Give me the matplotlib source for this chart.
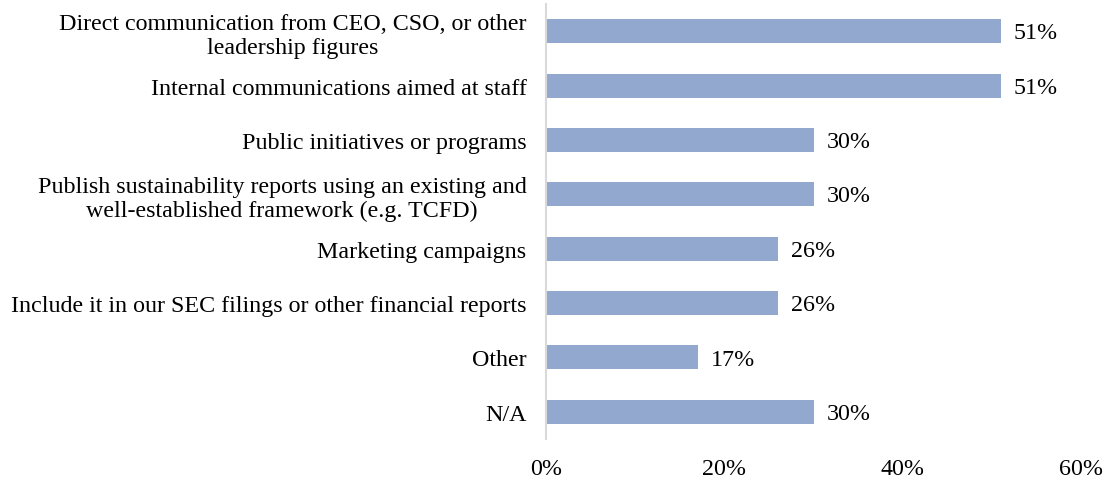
import matplotlib
matplotlib.use("Agg")
import matplotlib.pyplot as plt

categories = [
    "Direct communication from CEO, CSO, or other\nleadership figures",
    "Internal communications aimed at staff",
    "Public initiatives or programs",
    "Publish sustainability reports using an existing and\nwell-established framework (e.g. TCFD)",
    "Marketing campaigns",
    "Include it in our SEC filings or other financial reports",
    "Other",
    "N/A",
]
values = [51, 51, 30, 30, 26, 26, 17, 30]
xticks = [0, 20, 40, 60]
xtick_labels = ["0%", "20%", "40%", "60%"]

plt.rcParams['font.family'] = ['Liberation Serif', 'DejaVu Serif']
FS = 17.3

fig = plt.figure(figsize=(11.04, 4.81), dpi=100)
ax = fig.add_axes([546/1104, 41/481, (1081-546)/1104, 435/481])

pos = list(range(len(categories)))
ax.barh(pos, values, height=0.44, color="#93A8CE", edgecolor="none")
for p, v in zip(pos, values):
    ax.text(v + 1.45, p + 0.03, f"{v}%", va="center", ha="left", fontsize=FS, color="black")

ax.set_ylim(len(categories) - 0.5, -0.5)
ax.set_xlim(0, 60)
ax.set_yticks(pos)
ax.set_yticklabels(categories, fontsize=FS)
for lbl in ax.get_yticklabels():
    lbl.set_multialignment("center")
    lbl.set_linespacing(1.2)
ax.set_xticks(xticks)
ax.set_xticklabels(xtick_labels, fontsize=FS)
ax.tick_params(axis="both", length=0)
ax.tick_params(axis="y", pad=14)
ax.tick_params(axis="x", pad=14)

for s in ["top", "right", "bottom"]:
    ax.spines[s].set_visible(False)
ax.spines["left"].set_color("#D9D9D9")
ax.spines["left"].set_linewidth(1.5)

fig.savefig("out.png", dpi=100)
